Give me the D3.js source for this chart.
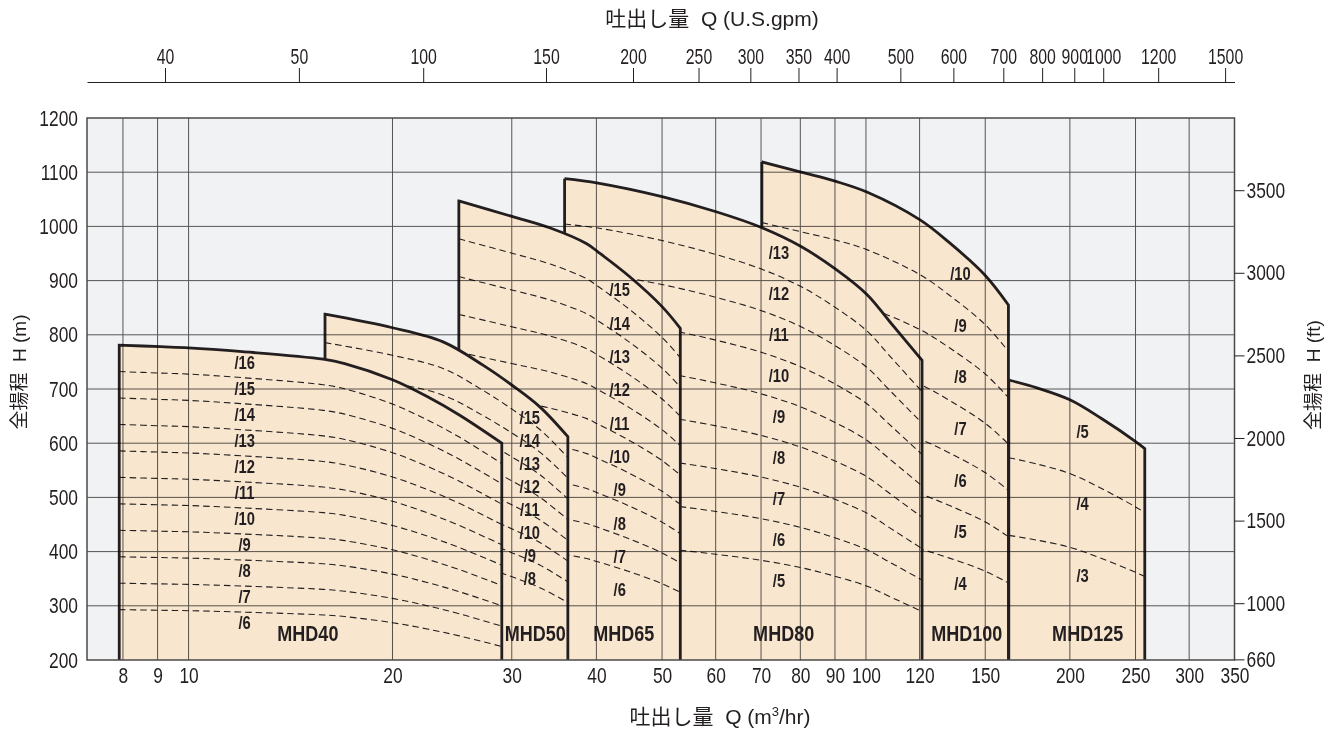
<!DOCTYPE html>
<html><head><meta charset="utf-8">
<script src="https://cdn.jsdelivr.net/npm/d3@7"></script>
<style>
body{margin:0;background:#fff;}
svg text{font-family:"Liberation Sans",Arial,"Noto Sans CJK JP",sans-serif;fill:#231f20;}
</style></head><body>
<script>
// ---------------- data ----------------
const models = ["MHD40","MHD50","MHD65","MHD80","MHD100","MHD125"];
const maxStages = [16,16,15,13,10,5];
const minStages = [6,8,6,5,4,3];
const labelledMax = [16,15,15,13,10,5];

// head (m) of the maximum-stage pump vs. flow (m3/hr)
const mhd40Q = [7.9, 9.1, 10, 12, 15.8, 17, 20, 22.5, 25.1, 29.0];
const mhd40H = [781, 778, 776, 769, 755, 747, 717, 686, 652, 600];
const mhd50Q = [15.9, 20.0, 23.75, 27.2, 30.1, 33.0, 36.3];
const mhd50H = [838, 813, 787, 744, 706, 667, 612];
const mhd65Q = [25.06, 30.1, 34.2, 38.7, 40.2, 44.8, 50.0, 53.2];
const mhd65H = [1047, 1018, 997, 968, 953, 907, 852, 812];
const mhd80Q = [35.9, 40.2, 50.0, 60.1, 70.1, 80.2, 90.2, 100.4, 108.3, 121];
const mhd80H = [1088, 1080, 1055, 1027, 998, 963, 921, 874, 825, 753];
const mhd100Q = [70.2, 80.2, 90.3, 100.5, 120.2, 132.8, 149.9, 162.3];
const mhd100H = [1119, 1100, 1083, 1063, 1012, 970, 910, 855];
const mhd125Q = [162.5, 178.8, 200, 222.4, 250.1, 258];
const mhd125H = [716.6, 702, 680, 646, 603, 590];

// flow (m3/hr) at which each model's stage labels and name sit
const stageLabelQ = [12.1, 31.9, 43.3, 74.4, 137.9, 208.9];
const nameQ = [15.0, 32.5, 43.9, 75.6, 140.9, 212.5];

const flowTicks = [8,9,10,20,30,40,50,60,70,80,90,100,120,150,200,250,300,350];
const headTicks = [200,300,400,500,600,700,800,900,1000,1100,1200];
const feetTicks = [660,1000,1500,2000,2500,3000,3500];
const gpmLabels = ["40","50","100","150","200","250","300","350","400","500","600","700","800","900","1000","1200","1500"];
const gpmAtFlow = [9.23,14.55,22.2,33.7,45.3,56.6,67.5,79.5,90.5,112.4,134.6,159.5,182,203,224,270,339];

// ---------------- drawing ----------------
const curveQ = [mhd40Q,mhd50Q,mhd65Q,mhd80Q,mhd100Q,mhd125Q];
const curveH = [mhd40H,mhd50H,mhd65H,mhd80H,mhd100H,mhd125H];
const labelOffset = [10.5,-5,21,17,21,24];
const SX = 0.79;

const W=1337,H=731;
const L=87,R=1234.5,T=118,B=660;
const x=d3.scaleLog().domain([7.08,350]).range([L,R]);
const y=d3.scaleLinear().domain([200,1200]).range([B,T]);
const yFt=d3.scaleLinear().domain([200/0.3048,1200/0.3048]).range([B,T]);

const svg=d3.select("body").append("svg").attr("width",W).attr("height",H);
svg.append("defs").append("clipPath").attr("id","plot").append("rect")
  .attr("x",L).attr("y",T).attr("width",R-L).attr("height",B-T);

svg.append("rect").attr("x",L).attr("y",T).attr("width",R-L).attr("height",B-T).attr("fill","#f1f2f4");

const g=svg.append("g").attr("clip-path","url(#plot)");
const line=d3.line().x(d=>x(d.q)).y(d=>y(d.h)).curve(d3.curveCatmullRom.alpha(0.5));

function pts(i,scale){return curveQ[i].map((q,k)=>({q:q,h:curveH[i][k]*scale}));}
function headAt(i,q){
  const Q=curveQ[i],Hh=curveH[i];
  for(let k=0;k<Q.length-1;k++){
    if(q>=Q[k]&&q<=Q[k+1]){
      const t=(Math.log(q)-Math.log(Q[k]))/(Math.log(Q[k+1])-Math.log(Q[k]));
      return Hh[k]+t*(Hh[k+1]-Hh[k]);
    }
  }
  return Hh[Hh.length-1];
}
function condense(sel,sx){
  sel.each(function(){
    const t=d3.select(this);
    const xv=+t.attr("x")||0;
    t.attr("x",xv/sx).attr("transform",`scale(${sx},1)`);
  });
}

for(let i=models.length-1;i>=0;i--){
  const Q=curveQ[i],Hh=curveH[i];
  const q0=Q[0],q1=Q[Q.length-1];
  const topPath=line(pts(i,1));
  g.append("path")
    .attr("d",`M${x(q0)},${y(200)}L${x(q0)},${y(Hh[0])}`+topPath.replace(/^M/,"L")+`L${x(q1)},${y(200)}Z`)
    .attr("fill","#f9e6cf");
  for(let n=minStages[i];n<maxStages[i];n++){
    g.append("path").attr("d",line(pts(i,n/maxStages[i])))
      .attr("fill","none").attr("stroke","#231f20").attr("stroke-width",1.1)
      .attr("stroke-dasharray","6.5,4");
  }
  g.append("path")
    .attr("d",`M${x(q0)},${y(200)+2}L${x(q0)},${y(Hh[0])}`+topPath.replace(/^M/,"L")+`L${x(q1)},${y(200)+2}`)
    .attr("fill","none").attr("stroke","#231f20").attr("stroke-width",2.8)
    .attr("stroke-linejoin","miter");
}

// grid
const grid=svg.append("g").style("mix-blend-mode","multiply").attr("stroke","#5a5a5a").attr("stroke-width",1);
flowTicks.filter(v=>v<350).forEach(v=>grid.append("line").attr("x1",x(v)).attr("x2",x(v)).attr("y1",T).attr("y2",B));
headTicks.filter(v=>v>200&&v<1200).forEach(v=>grid.append("line").attr("x1",L).attr("x2",R).attr("y1",y(v)).attr("y2",y(v)));

svg.append("rect").attr("x",L).attr("y",T).attr("width",R-L).attr("height",B-T)
  .attr("fill","none").attr("stroke","#4a4a4a").attr("stroke-width",1.5);

// stage labels
const lab=svg.append("g").attr("font-weight","bold").attr("font-size",18).attr("text-anchor","middle");
models.forEach((m,i)=>{
  const ql=stageLabelQ[i];
  const ht=headAt(i,ql);
  for(let n=minStages[i];n<=labelledMax[i];n++){
    lab.append("text").attr("x",x(ql)).attr("y",y(ht*n/maxStages[i])+labelOffset[i])
      .attr("dy","0.36em").text("/"+n);
  }
});
condense(lab.selectAll("text"),0.82);
// model names
const nm=svg.append("g").attr("font-weight","bold").attr("font-size",22).attr("text-anchor","middle");
models.forEach((m,i)=>{
  nm.append("text").attr("x",x(nameQ[i])).attr("y",B-27).attr("dy","0.36em").text(m);
});
condense(nm.selectAll("text"),0.82);

// axes
const fs=22;
const ax1=svg.append("g").attr("transform",`translate(0,${B})`)
  .call(d3.axisBottom(x).tickValues(flowTicks).tickFormat(d3.format("d")).tickSize(0).tickPadding(7));
ax1.select(".domain").remove();
const ax2=svg.append("g").attr("transform",`translate(${L},0)`)
  .call(d3.axisLeft(y).tickValues(headTicks).tickFormat(d3.format("d")).tickSize(0).tickPadding(9));
ax2.select(".domain").remove();
const ax3=svg.append("g").attr("transform",`translate(${R},0)`)
  .call(d3.axisRight(yFt).tickValues(feetTicks).tickFormat(d3.format("d")).tickSize(10).tickPadding(2));
ax3.select(".domain").remove();
const ax4=svg.append("g").attr("transform",`translate(0,82)`)
  .call(d3.axisTop(x).tickValues(gpmAtFlow).tickFormat((d,i)=>gpmLabels[i]).tickSize(14).tickSizeOuter(0).tickPadding(4));
[ax1,ax2,ax3,ax4].forEach(a=>{
  a.selectAll("text").attr("font-size",fs).attr("font-family",null).style("fill","#231f20");
  a.selectAll("line").attr("stroke","#231f20");
  a.select(".domain").attr("stroke","#231f20").attr("stroke-width",1.2);
  condense(a.selectAll("text"),a===ax4?0.72:SX);
});

// titles
svg.append("text").attr("x",712).attr("y",18).attr("dy","0.36em")
  .attr("text-anchor","middle").attr("font-size",21).style("white-space","pre").text("吐出し量  Q (U.S.gpm)");
const bt=svg.append("text").attr("x",720).attr("y",716).attr("dy","0.36em")
  .attr("text-anchor","middle").attr("font-size",21).style("white-space","pre");
bt.append("tspan").text("吐出し量  Q (m");
bt.append("tspan").attr("font-size",13).attr("dy","-0.55em").text("3");
bt.append("tspan").attr("dy","0.35em").text("/hr)");
svg.append("text").attr("transform","translate(19,372) rotate(-90)").attr("dy","0.36em")
  .attr("text-anchor","middle").attr("font-size",19).style("white-space","pre").text("全揚程  H (m)");
svg.append("text").attr("transform","translate(1313,375) rotate(-90)").attr("dy","0.36em")
  .attr("text-anchor","middle").attr("font-size",19).style("white-space","pre").text("全揚程  H (ft)");
</script>
</body></html>
